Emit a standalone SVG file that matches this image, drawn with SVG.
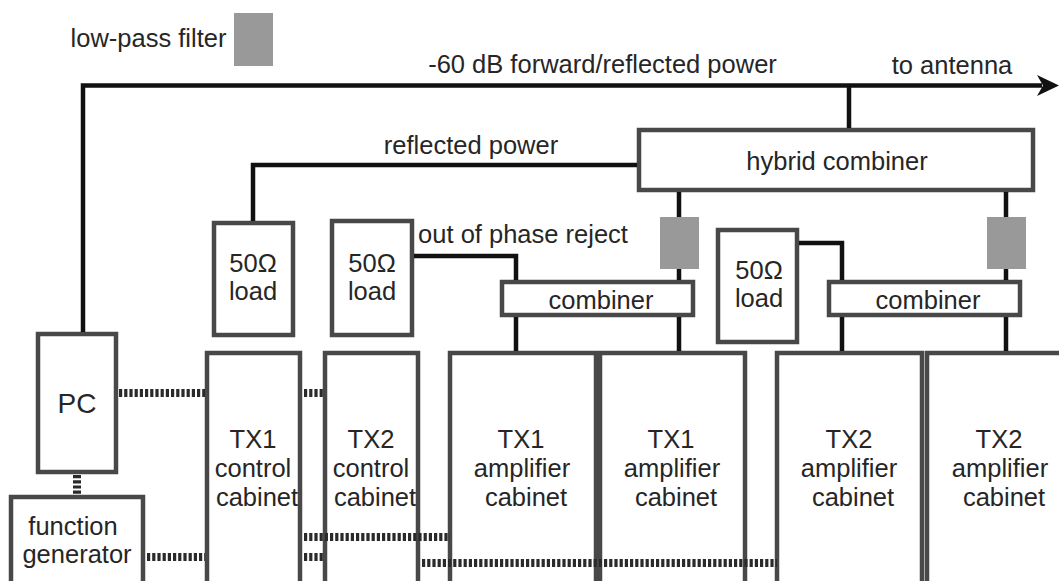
<svg xmlns="http://www.w3.org/2000/svg" width="1059" height="581" viewBox="0 0 1059 581">
<defs><style>
text{font-family:"Liberation Sans",Arial,sans-serif;font-size:25.5px;fill:#262626;text-anchor:middle}
.b{fill:#fff;stroke:#484848;stroke-width:4.5}
.f{fill:#999}
.l{fill:none;stroke:#111;stroke-width:4.5}
.d{fill:none;stroke:#2a2a2a;stroke-width:8;stroke-dasharray:3.2 2}
</style></defs>
<rect width="1059" height="581" fill="#fff"/>
<text x="148.500" y="47">low-pass filter</text>
<text x="602.500" y="73">-60 dB forward/reflected power</text>
<text x="952" y="74">to antenna</text>
<text x="471" y="154">reflected power</text>
<text x="523" y="243">out of phase reject</text>
<g id="legend-filter"><rect class="f" x="234" y="13" width="39" height="53"/></g>
<g id="hybrid"><rect class="b" x="639" y="130" width="394" height="60"/><text x="837" y="170">hybrid combiner</text></g>
<g id="filter1"><rect class="f" x="660" y="217" width="39" height="52"/></g>
<g id="filter2"><rect class="f" x="987" y="217" width="39" height="52"/></g>
<g id="load1"><rect class="b" x="214" y="223" width="79" height="112"/><text x="253" y="272">50Ω</text><text x="253" y="300">load</text></g>
<g id="load2"><rect class="b" x="332" y="221" width="80" height="114"/><text x="372" y="272">50Ω</text><text x="372" y="300">load</text></g>
<g id="load3"><rect class="b" x="718" y="230" width="79" height="112"/><text x="759" y="279">50Ω</text><text x="759" y="307">load</text></g>
<g id="combiner1"><rect class="b" x="502" y="282" width="191" height="33"/><text x="601" y="309">combiner</text></g>
<g id="combiner2"><rect class="b" x="829" y="282" width="191" height="33"/><text x="928" y="309">combiner</text></g>
<g id="pc"><rect class="b" x="38" y="334" width="78" height="138"/><text x="77" y="413" style="font-size:28px">PC</text></g>
<g id="fg"><rect class="b" x="11" y="497" width="132" height="90"/><text x="73" y="535">function</text><text x="77" y="563">generator</text></g>
<g id="tx1c"><rect class="b" x="207" y="353" width="93" height="240"/><text x="253" y="448">TX1</text><text x="253" y="477">control</text><text x="257" y="506">cabinet</text></g>
<g id="tx2c"><rect class="b" x="325" y="353" width="93" height="240"/><text x="371" y="448">TX2</text><text x="371" y="477">control</text><text x="375" y="506">cabinet</text></g>
<g id="a1"><rect class="b" x="450" y="353" width="146" height="240"/><text x="521" y="448">TX1</text><text x="522" y="477">amplifier</text><text x="526" y="506">cabinet</text></g>
<g id="a2"><rect class="b" x="600" y="353" width="145" height="240"/><text x="671" y="448">TX1</text><text x="672" y="477">amplifier</text><text x="676" y="506">cabinet</text></g>
<g id="a3"><rect class="b" x="777" y="353" width="145" height="240"/><text x="849" y="448">TX2</text><text x="849" y="477">amplifier</text><text x="853" y="506">cabinet</text></g>
<g id="a4"><rect class="b" x="927" y="353" width="145" height="240"/><text x="999" y="448">TX2</text><text x="1000" y="477">amplifier</text><text x="1004" y="506">cabinet</text></g>
<g id="connectors">
<path class="l" d="M83 332V85.500H1042M849 85V128M253 221V165H637M679 192V217M679 269V280M679 317V351M1006 192V217M1006 269V280M1006 317V351M414 256H516V280M516 317V351M799 243H842V280M842 317V351"/>
<path d="M1037 75L1059 85.500L1037 96L1043 85.500Z" fill="#111"/>
<path class="d" d="M119 393H205M304 393H323M77 475V495M147 557H205M304 537H450M304 557H323M422 563H777"/>
</g>
</svg>
